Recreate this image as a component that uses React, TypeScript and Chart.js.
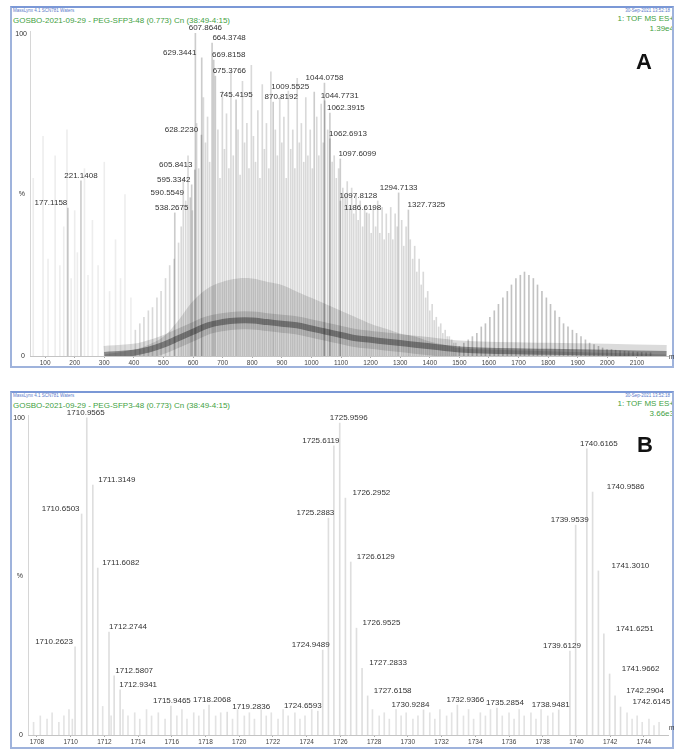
import React, { useEffect, useRef } from "react";
import { Chart, registerables } from "chart.js";
Chart.register(...registerables);

// ---------------- Panel A (full scan) ----------------
const ticksA = [100, 200, 300, 400, 500, 600, 700, 800, 900, 1000, 1100, 1200, 1300, 1400, 1500, 1600, 1700, 1800, 1900, 2000, 2100];

const labelMzA = [607.8646, 664.3748, 629.3441, 669.8158, 675.3766, 1044.0758, 1009.5525, 745.4195, 870.8192, 1044.7731, 1062.3915, 628.2230, 1062.6913, 1097.6099, 605.8413, 221.1408, 595.3342, 1294.7133, 590.5549, 1097.8128, 177.1158, 1327.7325, 1186.6198, 538.2675];
const labelPctA = [100, 96.9, 92.3, 91.6, 86.7, 84.5, 81.7, 79.3, 78.6, 79, 75.2, 68.4, 67.2, 61, 57.6, 54.2, 53, 50.5, 49, 48, 45.8, 45.2, 44.3, 44.3];

const faintMzA = [60, 93, 110, 134, 150, 163, 174, 188, 200, 209, 233, 245, 260, 279, 300, 318, 338, 355, 370, 390];
const faintPctA = [55, 68, 30, 62, 28, 40, 70, 24, 45, 32, 58, 25, 42, 28, 60, 20, 36, 24, 50, 18];

const midMzA = [405, 420, 434, 449, 463, 478, 492, 507, 521, 536, 551, 560, 567, 575, 583, 598, 612, 619, 635, 642, 649, 656, 684, 691, 699, 706, 713, 721, 728, 736, 752, 759, 767, 774, 782, 789, 797, 804, 811, 819, 826, 834, 841, 848, 856, 863, 878, 885, 893, 900, 907, 915, 922, 930, 937, 944, 952, 959, 966, 974, 981, 988, 996, 1003, 1018, 1025, 1033, 1040, 1055, 1070, 1077, 1084, 1092, 1106, 1114, 1121, 1129, 1136, 1143, 1151, 1158, 1165, 1173, 1180, 1195, 1202, 1209, 1217, 1224, 1231, 1239, 1246, 1253, 1261, 1268, 1275, 1283, 1290, 1305, 1312, 1320, 1334, 1342, 1349, 1356, 1364, 1371, 1378, 1386, 1393, 1400, 1408, 1415, 1422, 1430, 1437, 1444, 1452, 1459, 1466, 1474, 1481, 1488];
const midPctA = [8, 10, 12, 14, 15, 18, 20, 24, 28, 30, 35, 40, 55, 48, 62, 45, 72, 58, 80, 66, 74, 60, 70, 55, 82, 64, 75, 58, 88, 62, 70, 56, 85, 66, 72, 58, 90, 68, 60, 76, 55, 84, 64, 72, 58, 88, 70, 62, 80, 66, 74, 55, 82, 64, 70, 58, 86, 66, 72, 60, 80, 62, 70, 58, 74, 62, 78, 66, 70, 60, 62, 55, 58, 52, 50, 54, 46, 52, 44, 50, 42, 48, 40, 46, 44, 38, 46, 40, 48, 38, 46, 36, 44, 38, 46, 36, 44, 40, 42, 34, 40, 36, 30, 34, 26, 30, 22, 26, 18, 20, 14, 16, 11, 12, 9, 10, 7, 8, 6, 6, 5, 4, 4];

const series2MzA = [1500, 1515, 1530, 1544, 1559, 1574, 1588, 1603, 1618, 1632, 1647, 1662, 1676, 1691, 1706, 1720, 1735, 1750, 1764, 1779, 1794, 1808, 1823, 1838, 1852, 1867, 1882, 1896, 1911, 1926, 1940, 1955, 1970, 1984, 1999, 2014, 2028, 2043, 2058, 2072, 2087, 2102, 2116, 2131, 2146];
const series2PctA = [3, 4, 5, 6, 7, 9, 10, 12, 14, 16, 18, 20, 22, 24, 25, 26, 25, 24, 22, 20, 18, 16, 14, 12, 10, 9, 8, 7, 6, 5, 4, 3.5, 3, 2.5, 2, 2, 1.8, 1.6, 1.5, 1.4, 1.3, 1.2, 1.1, 1, 1];

const envMzA = [300, 400, 450, 500, 550, 600, 650, 700, 750, 800, 850, 900, 950, 1000, 1050, 1100, 1150, 1200, 1250, 1300, 1350, 1400, 1450, 1500, 1600, 1800, 2000, 2200];
const envHazeA = [0.5, 2, 3.5, 6, 11, 17, 21, 23, 24, 24, 23, 22, 20, 18, 16, 14, 12, 10, 8.5, 7, 6, 4.5, 3.5, 2.5, 2, 1.5, 1, 0.5];
const envBandA = [0.3, 1, 2, 3.5, 5.5, 7.5, 9.5, 10.5, 11, 11, 10.5, 10, 9.5, 8.5, 7.5, 6.5, 5.5, 5, 4.5, 4, 3.5, 3, 2.5, 2, 1.6, 1.3, 1, 0.6];

// ---------------- Panel B (zoom 1708-1744) ----------------
const ticksB = [1708, 1710, 1712, 1714, 1716, 1718, 1720, 1722, 1724, 1726, 1728, 1730, 1732, 1734, 1736, 1738, 1740, 1742, 1744];

const labelMzB = [1710.9565, 1711.3149, 1710.6503, 1711.6082, 1712.2744, 1710.2623, 1712.5807, 1712.9341, 1715.9465, 1718.2068, 1719.2836, 1724.6593, 1724.9489, 1725.2883, 1725.6119, 1725.9596, 1726.2952, 1726.6129, 1726.9525, 1727.2833, 1727.6158, 1730.9284, 1732.9366, 1735.2854, 1738.9481, 1739.6129, 1739.9539, 1740.6165, 1740.9586, 1741.3010, 1741.6251, 1741.9662, 1742.2904, 1742.6145];
const labelPctB = [99.7, 78.6, 69.5, 52.5, 32.4, 27.7, 18.6, 14.2, 9.1, 9.4, 7.2, 7.5, 26.7, 68.2, 90.9, 98.1, 74.5, 54.4, 33.6, 21, 12.3, 7.9, 9.4, 8.5, 7.9, 26.4, 66, 90, 76.4, 51.6, 31.8, 19.2, 12.3, 8.8];

const noiseMzB = [1707.8, 1708.2, 1708.6, 1708.9, 1709.3, 1709.6, 1709.9, 1710.1, 1711.9, 1712.4, 1713.1, 1713.4, 1713.8, 1714.1, 1714.5, 1714.8, 1715.2, 1715.6, 1716.3, 1716.6, 1716.9, 1717.3, 1717.6, 1717.9, 1718.6, 1718.9, 1719.6, 1719.9, 1720.3, 1720.6, 1720.9, 1721.3, 1721.6, 1721.9, 1722.3, 1722.6, 1722.9, 1723.3, 1723.6, 1723.9, 1724.3, 1727.9, 1728.3, 1728.6, 1728.9, 1729.3, 1729.6, 1729.9, 1730.3, 1730.6, 1731.3, 1731.6, 1731.9, 1732.3, 1732.6, 1733.3, 1733.6, 1733.9, 1734.3, 1734.6, 1734.9, 1735.6, 1736.0, 1736.3, 1736.6, 1736.9, 1737.3, 1737.6, 1737.9, 1738.3, 1738.6, 1743.0, 1743.3, 1743.6, 1743.9, 1744.3, 1744.6, 1744.9];
const noisePctB = [4, 6, 5, 7, 4, 6, 8, 5, 9, 6, 8, 6, 7, 5, 8, 6, 7, 5, 6, 8, 5, 7, 6, 8, 6, 7, 5, 8, 6, 7, 5, 8, 6, 7, 5, 8, 6, 7, 5, 6, 8, 8, 6, 7, 5, 8, 6, 7, 5, 6, 7, 5, 8, 6, 7, 6, 8, 5, 7, 6, 8, 6, 7, 5, 8, 6, 7, 5, 8, 6, 7, 7, 5, 6, 4, 5, 3, 4];

// ---------------- layout (not data) ----------------
const labelShiftA = [10, 17, -22, 15, 14, 0, -24, 0, 8, 15, 16, -20, 18, 17, -19, 0, -18, 0, -23, 18, -17, 18, -4, -3];
const labelShiftB = [-1, 24, -21, 23, 19, -21, 20, 18, 1, 3, 24, -15, -12, -13, -13, 9, 26, 25, 25, 26, 25, -13, 8, 8, -8, -8, -6, 12, 33, 32, 31, 31, 30, 31];

const FONT = '"Liberation Sans", Arial, sans-serif';
const TITLE = "GOSBO-2021-09-29 - PEG-SFP3-48 (0.773) Cn (38:49-4:15)";

const toXY = (xs: number[], ys: number[]) => xs.map((x, i) => ({ x, y: ys[i] }));

function annotPlugin(mz: number[], pct: number[], shift: number[], mzDy: number) {
  return {
    id: "annot",
    afterDatasetsDraw(chart: any) {
      const { ctx, chartArea, scales } = chart;
      const xs = scales.x;
      const ys = scales.y;
      ctx.save();
      ctx.strokeStyle = "#d6d6d6";
      ctx.lineWidth = 1;
      ctx.beginPath();
      ctx.moveTo(Math.round(chartArea.left) + 0.5, chartArea.top - 2);
      ctx.lineTo(Math.round(chartArea.left) + 0.5, chartArea.bottom);
      ctx.stroke();
      ctx.fillStyle = "#333";
      ctx.font = `8px ${FONT}`;
      ctx.textAlign = "center";
      ctx.textBaseline = "middle";
      mz.forEach((m, i) => {
        const x = xs.getPixelForValue(m) + shift[i];
        const y = ys.getPixelForValue(pct[i]) - 5;
        ctx.fillText(m.toFixed(4), x, y);
      });
      ctx.font = `7px ${FONT}`;
      ctx.fillStyle = "#333";
      ctx.textAlign = "right";
      ctx.fillText("100", chartArea.left - 3, ys.getPixelForValue(100) + 1);
      ctx.fillText("0", chartArea.left - 5, ys.getPixelForValue(0));
      ctx.fillText("%", chartArea.left - 5, ys.getPixelForValue(50));
      ctx.textAlign = "left";
      ctx.font = `6.5px ${FONT}`;
      ctx.fillText("m/z", chartArea.right + 1, chartArea.bottom + mzDy);
      ctx.restore();
    },
  };
}

function xScale(min: number, max: number, ticks: number[], height: number) {
  return {
    type: "linear",
    min,
    max,
    offset: false,
    afterBuildTicks: (ax: any) => {
      ax.ticks = ticks.map((v) => ({ value: v }));
    },
    afterFit: (ax: any) => {
      ax.height = height;
    },
    ticks: {
      autoSkip: false,
      maxRotation: 0,
      minRotation: 0,
      padding: 1,
      color: "#444",
      font: { size: 6.5, family: FONT },
      callback: (v: any) => String(v),
    },
    grid: { drawOnChartArea: false, tickLength: 2, color: "#aaa", offset: false },
    border: { color: "#c4c4c4" },
  };
}

const bar = (data: any[], color: string, order: number) => ({
  type: "bar",
  data,
  backgroundColor: color,
  barThickness: 1,
  grouped: false,
  order,
});

export default function App() {
  const refA = useRef<HTMLCanvasElement | null>(null);
  const refB = useRef<HTMLCanvasElement | null>(null);

  useEffect(() => {
    const common = {
      animation: false,
      responsive: false,
      maintainAspectRatio: false,
      plugins: { legend: { display: false }, tooltip: { enabled: false } },
      events: [],
    };
    const chartA = new Chart(refA.current as any, {
      type: "bar",
      data: {
        datasets: [
          { type: "line", data: toXY(envMzA, envBandA), borderColor: "rgba(25,25,25,0.42)", borderWidth: 6, pointRadius: 0, tension: 0.4, fill: false, order: 0 },
          { type: "line", data: toXY(envMzA, envBandA), borderColor: "rgba(0,0,0,0.14)", borderWidth: 18, pointRadius: 0, tension: 0.4, fill: false, order: 1 },
          { type: "line", data: toXY(envMzA, envHazeA), borderColor: "transparent", borderWidth: 0, backgroundColor: "rgba(0,0,0,0.13)", pointRadius: 0, tension: 0.4, fill: "origin", order: 2 },
          bar(toXY(labelMzA, labelPctA), "rgba(0,0,0,0.20)", 3),
          bar(toXY(midMzA, midPctA), "rgba(0,0,0,0.15)", 4),
          bar(toXY(series2MzA, series2PctA), "rgba(0,0,0,0.24)", 5),
          bar(toXY(faintMzA, faintPctA), "rgba(0,0,0,0.07)", 6),
        ] as any,
      },
      options: {
        ...common,
        layout: { padding: { left: 18, right: 6, top: 13, bottom: 0 } },
        scales: {
          x: xScale(49, 2205, ticksA, 12),
          y: { display: false, min: 0, max: 100 },
        },
      } as any,
      plugins: [annotPlugin(labelMzA, labelPctA, labelShiftA, 1) as any],
    });
    const chartB = new Chart(refB.current as any, {
      type: "bar",
      data: {
        datasets: [
          bar(toXY(labelMzB, labelPctB), "rgba(0,0,0,0.13)", 0),
          bar(toXY(noiseMzB, noisePctB), "rgba(0,0,0,0.11)", 1),
        ] as any,
      },
      options: {
        ...common,
        layout: { padding: { left: 16, right: 6, top: 17, bottom: 0 } },
        scales: {
          x: xScale(1707.47, 1745.43, ticksB, 14),
          y: { display: false, min: 0, max: 100 },
        },
      } as any,
      plugins: [annotPlugin(labelMzB, labelPctB, labelShiftB, -7) as any],
    });
    return () => {
      chartA.destroy();
      chartB.destroy();
    };
  }, []);

  const frame = (top: number, height: number): React.CSSProperties => ({
    position: "absolute",
    left: 10,
    top,
    width: 660,
    height,
    borderLeft: "2px solid #9fb3dc",
    borderRight: "2px solid #9fb3dc",
    borderBottom: "2px solid #9fb3dc",
    borderTop: "2px solid #7b98d6",
    overflow: "hidden",
    background: "#fff",
  });
  const txt = (extra: React.CSSProperties): React.CSSProperties => ({
    position: "absolute",
    fontFamily: FONT,
    whiteSpace: "nowrap",
    lineHeight: 1,
    ...extra,
  });

  const header = (valueText: string) => (
    <>
      <div style={txt({ left: 1, top: 1, fontSize: 4.5, color: "#5a78c8" })}>MassLynx 4.1 SCN781 Waters</div>
      <div style={txt({ right: 2, top: 1, fontSize: 4.5, color: "#5a78c8" })}>30-Sep-2021 13:52:18</div>
      <div style={txt({ left: 1, top: 9, fontSize: 8, color: "#3f9f3f" })}>{TITLE}</div>
      <div style={txt({ right: -2, top: 7, fontSize: 8, color: "#3f9f3f" })}>1: TOF MS ES+</div>
      <div style={txt({ right: -2, top: 17, fontSize: 8, color: "#3f9f3f" })}>{valueText}</div>
    </>
  );

  return (
    <div style={{ position: "fixed", left: 0, top: 0, width: 676, height: 751, background: "#fff", overflow: "hidden" }}>
      <div style={frame(6, 358)}>{header("1.39e4")}</div>
      <div style={frame(391, 354)}>{header("3.66e3")}</div>
      <canvas ref={refA} width={662} height={348} style={{ position: "absolute", left: 12, top: 20 }} />
      <canvas ref={refB} width={662} height={349} style={{ position: "absolute", left: 12, top: 400 }} />
      <div style={txt({ left: 636, top: 51, fontSize: 22, fontWeight: "bold", color: "#111" })}>A</div>
      <div style={txt({ left: 637, top: 434, fontSize: 22, fontWeight: "bold", color: "#111" })}>B</div>
    </div>
  );
}
